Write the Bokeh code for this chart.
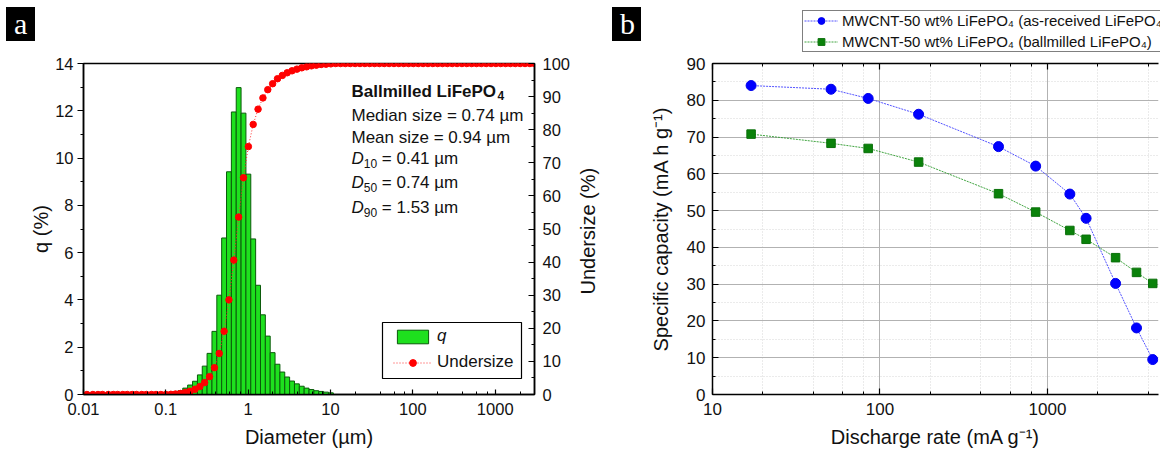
import numpy as np
from math import pi
from bokeh.plotting import figure
from bokeh.models import (Range1d, LinearAxis, LogAxis, Label, Legend, LegendItem,
                          ColumnDataSource, SingleIntervalTicker, LogTicker,
                          CustomJSTickFormatter, BoxAnnotation)
from bokeh.layouts import row, column
from bokeh.embed import file_html
from bokeh.resources import INLINE

SANS = "Liberation Sans"
SERIF = "Liberation Serif"
INK = "#111111"

# ---------------- Panel a data: particle size distribution ----------------
diameter_um = [0.011, 0.013, 0.015, 0.017, 0.020, 0.023, 0.026, 0.030, 0.034, 0.039,
               0.044, 0.051, 0.058, 0.067, 0.076, 0.087, 0.100, 0.115, 0.131, 0.150,
               0.172, 0.197, 0.226, 0.259, 0.296, 0.339, 0.389, 0.445, 0.510, 0.584,
               0.669, 0.766, 0.877, 1.005, 1.151, 1.318, 1.510, 1.729, 1.981, 2.269,
               2.599, 2.976, 3.409, 3.905, 4.472, 5.122, 5.867, 6.720, 7.697, 8.816,
               10.097, 11.565, 13.246, 15.172, 17.377, 19.904, 22.797, 26.111, 29.907, 34.255,
               39.234, 44.938, 51.471, 58.953, 67.523, 77.339, 88.583, 101.460, 116.210, 133.103,
               152.453, 174.616, 200.000, 229.075, 262.376, 300.518, 344.206, 394.244, 451.556, 517.200,
               592.387, 678.504, 777.141, 890.116, 1019.515, 1167.725, 1337.481, 1531.914, 1754.613, 2009.687,
               2301.841, 2636.467, 3000.000]

q_percent = [0, 0, 0, 0, 0, 0, 0, 0, 0, 0,
             0, 0, 0, 0, 0, 0, 0, 0.04, 0.09, 0.16,
             0.27, 0.40, 0.56, 0.83, 1.20, 1.74, 2.67, 4.20, 6.62, 9.42,
             11.95, 12.98, 11.90, 9.32, 6.58, 4.62, 3.37, 2.47, 1.77, 1.28,
             0.95, 0.74, 0.57, 0.45, 0.35, 0.27, 0.21, 0.16, 0.13, 0.10,
             0.07, 0, 0, 0, 0, 0, 0, 0, 0, 0,
             0, 0, 0, 0, 0, 0, 0, 0, 0, 0,
             0, 0, 0, 0, 0, 0, 0, 0, 0, 0,
             0, 0, 0, 0, 0, 0, 0, 0, 0, 0,
             0, 0, 0]

undersize_percent = [0, 0, 0, 0, 0, 0, 0, 0, 0, 0,
                     0, 0, 0, 0, 0, 0, 0, 0.05, 0.15, 0.3,
                     0.6, 1.0, 1.6, 2.4, 3.6, 5.4, 8.1, 12.4, 19.1, 28.6,
                     40.6, 53.6, 65.5, 74.9, 81.6, 86.2, 89.6, 92.1, 93.9, 95.4,
                     96.4, 97.2, 97.8, 98.3, 98.7, 99.0, 99.3, 99.5, 99.7, 99.8,
                     99.9, 100, 100, 100, 100, 100, 100, 100, 100, 100,
                     100, 100, 100, 100, 100, 100, 100, 100, 100, 100,
                     100, 100, 100, 100, 100, 100, 100, 100, 100, 100,
                     100, 100, 100, 100, 100, 100, 100, 100, 100, 100,
                     100, 100, 100]

stats_lines = ["Median size = 0.74 µm", "Mean size = 0.94 µm"]
d_labels = ["10", "50", "90"]
d_values = ["= 0.41 µm", "= 0.74 µm", "= 1.53 µm"]

# ---------------- Panel b data: rate capability ----------------
discharge_rate = [17, 51, 85, 170, 510, 850, 1360, 1700, 2550, 3400, 4250]
cap_as_received = [84.0, 83.0, 80.5, 76.2, 67.4, 62.1, 54.5, 47.9, 30.2, 18.1, 9.5]
cap_ballmilled = [70.8, 68.3, 66.9, 63.2, 54.6, 49.6, 44.6, 42.2, 37.2, 33.2, 30.2]
label_as_received = "MWCNT-50 wt% LiFePO₄ (as-received LiFePO₄)"
label_ballmilled = "MWCNT-50 wt% LiFePO₄ (ballmilled LiFePO₄)"

BLUE_LINE = dict(line_color="#4040ff", line_width=0.9, line_dash="2 1")
BLUE_MARK = dict(marker="circle", size=10, fill_color="#0000ff", line_color="#0000ee")
GREEN_LINE = dict(line_color="#2a9a2a", line_width=0.9, line_dash="2 1")
GREEN_MARK = dict(marker="square", size=8.5, fill_color="#0a820a", line_color="#0a700a")

fmt = CustomJSTickFormatter(code="return Number(tick.toPrecision(3)).toString();")


def label(p, text, x, y, size, style="normal", align="left", baseline="alphabetic",
          angle=0.0, font=SANS, color=INK):
    p.add_layout(Label(x=x, y=y, x_units="screen", y_units="screen", text=text,
                       text_font=font, text_font_size=f"{size}px", text_font_style=style,
                       text_align=align, text_baseline=baseline, angle=angle,
                       text_color=color))


def sbox(p, l, r, b, t, fill="black", line=None, lw=1.0):
    p.add_layout(BoxAnnotation(left=l, right=r, bottom=b, top=t,
                               left_units="screen", right_units="screen",
                               bottom_units="screen", top_units="screen",
                               fill_color=fill, fill_alpha=1.0,
                               line_color=line, line_width=lw, line_alpha=1.0))


def style_axis(ax, size, t_in, t_out, m_in, m_out, standoff):
    ax.axis_line_color = "black"
    ax.axis_line_width = 1.5
    ax.major_tick_line_color = "black"
    ax.minor_tick_line_color = "black"
    ax.major_tick_line_width = 1.2
    ax.minor_tick_line_width = 1
    ax.major_tick_in = t_in
    ax.major_tick_out = t_out
    ax.minor_tick_in = m_in
    ax.minor_tick_out = m_out
    ax.major_label_text_font = SANS
    ax.major_label_text_font_size = f"{size}px"
    ax.major_label_text_color = INK
    ax.major_label_standoff = standoff


def title_axis(ax, text, standoff):
    ax.axis_label = text
    ax.axis_label_text_font = SANS
    ax.axis_label_text_font_size = "20px"
    ax.axis_label_text_font_style = "normal"
    ax.axis_label_text_color = INK
    ax.axis_label_standoff = standoff


def letter_legend(fig, letter, x, y_bottom):
    dummy = fig.quad(left=[], right=[], bottom=[], top=[], fill_alpha=0, line_alpha=0)
    return Legend(items=[LegendItem(label=letter, renderers=[dummy])],
                  location=(x, y_bottom), padding=0, margin=0, spacing=0,
                  glyph_width=0, glyph_height=29, label_standoff=8, label_width=21,
                  label_height=29, label_text_font=SERIF, label_text_font_size="30px",
                  label_text_color="white", background_fill_color="black",
                  background_fill_alpha=1.0, border_line_color=None)


HDR_H = 52          # header strip (page y 0..52)
FIG_H = 400         # plots (page y 52..452)
TOP_B = 63 - HDR_H  # frame top at page y 63
BOT_B = FIG_H - (394 - HDR_H)  # frame bottom at page y 394
W_A = 620           # panel a canvas (page x 0..620); its frame ends at x 534
W_B = 540           # panel b canvas (page x 620..1160); its frame starts at x 712

# ======================= header strip (panel letters, legend of b) =======================
hdr = figure(width=W_A + W_B, height=HDR_H, x_range=Range1d(0, 1), y_range=Range1d(0, 1),
             x_axis_location=None, y_axis_location=None, min_border=0, title=None,
             output_backend="svg", toolbar_location=None)
hdr.outline_line_color = None
hdr.grid.visible = False
hdr.background_fill_alpha = 0.0

hdr.add_layout(letter_legend(hdr, "a", 6, HDR_H - 41))
hdr.add_layout(letter_legend(hdr, "b", 612, HDR_H - 41))

# legend glyph sources (the data lie outside this strip's ranges, so only the legend shows)
h_bl = hdr.line(discharge_rate, cap_as_received, **BLUE_LINE)
h_bs = hdr.scatter(discharge_rate, cap_as_received, **BLUE_MARK)
h_gl = hdr.line(discharge_rate, cap_ballmilled, **GREEN_LINE)
h_gs = hdr.scatter(discharge_rate, cap_ballmilled, **GREEN_MARK)
leg_b = Legend(items=[LegendItem(label=label_as_received, renderers=[h_bl, h_bs]),
                      LegendItem(label=label_ballmilled, renderers=[h_gl, h_gs])],
               location=(802, 0.5), padding=1, margin=0, spacing=4,
               glyph_width=34, glyph_height=17, label_height=17, label_standoff=4,
               label_text_font=SANS, label_text_font_size="15px",
               label_text_color=INK, border_line_color="black",
               border_line_width=1.2, background_fill_color="white",
               background_fill_alpha=1.0)
hdr.add_layout(leg_b)

# ======================= Panel a =======================
p1 = figure(width=W_A, height=FIG_H, x_axis_type="log",
            x_range=Range1d(0.01, 3000), y_range=Range1d(0, 14),
            output_backend="svg", toolbar_location=None,
            min_border_left=83, min_border_right=W_A - 534,
            min_border_top=TOP_B, min_border_bottom=BOT_B)
p1.extra_y_ranges = {"under": Range1d(0, 100)}
p1.xgrid.visible = False
p1.ygrid.visible = False
p1.outline_line_color = "black"
p1.outline_line_width = 1.5
p1.outline_line_alpha = 1.0

d = np.array(diameter_um)
mid = np.sqrt(d[:-1] * d[1:])
left_edge = np.concatenate([[d[0] ** 2 / mid[0]], mid])
right_edge = np.concatenate([mid, [d[-1] ** 2 / mid[-1]]])
qa = np.array(q_percent, dtype=float)
has = qa > 0
bar_src = ColumnDataSource(dict(left=left_edge[has], right=right_edge[has], top=qa[has]))
bars = p1.quad(left="left", right="right", bottom=0, top="top", source=bar_src,
               fill_color="#1ee01e", line_color="#0b5a0b", line_width=1)

u_src = ColumnDataSource(dict(x=diameter_um, y=undersize_percent))
uline = p1.line("x", "y", source=u_src, y_range_name="under",
                line_color="#ff3030", line_width=1, line_dash="1 2")
udots = p1.scatter("x", "y", source=u_src, y_range_name="under", marker="circle",
                   size=6.5, fill_color="#ff0000", line_color="#ff0000")

p1.xaxis.formatter = fmt
p1.xaxis.ticker = LogTicker(desired_num_ticks=6)
style_axis(p1.xaxis[0], 16.5, 5, 0, 3, 0, 8)
title_axis(p1.xaxis[0], "Diameter (µm)", 8)
p1.yaxis.ticker = SingleIntervalTicker(interval=2, num_minor_ticks=2)
style_axis(p1.yaxis[0], 16.5, 0, 6, 0, 3, 4)
title_axis(p1.yaxis[0], "q (%)", 0)
ax_r = LinearAxis(y_range_name="under",
                  ticker=SingleIntervalTicker(interval=10, num_minor_ticks=2))
style_axis(ax_r, 16.5, 6, 0, 3, 0, 8)
title_axis(ax_r, "Undersize (%)", 6)
try:
    # read bottom-to-top like the left title: start the text at the bottom end and
    # push it up to the middle of the axis
    ax_r.axis_label_align = "start"
    ax_r.axis_label_orientation = pi / 2
    ax_r.axis_label = "\u00a0" * 18 + "Undersize (%)"
    ax_r.axis_label_standoff = 15
except AttributeError:
    ax_r.axis_label = "Undersize (%)"
    ax_r.axis_label_standoff = 6
p1.add_layout(ax_r, "right")

# legend (two parts so that "q" is italic) inside a framed box
sbox(p1, 299, 438, 16, 72, fill="white", line="black", lw=1.2)
leg_common = dict(padding=0, spacing=0, glyph_width=39, glyph_height=17,
                  label_height=17, label_standoff=5, label_text_font=SANS,
                  label_text_font_size="17px", label_text_color=INK,
                  border_line_color=None, background_fill_alpha=0.0)
leg_q = Legend(items=[LegendItem(label="q", renderers=[bars])], location=(310, 48),
               label_text_font_style="italic", **leg_common)
leg_u = Legend(items=[LegendItem(label="Undersize", renderers=[uline, udots])],
               location=(310, 22), **leg_common)
p1.add_layout(leg_q)
p1.add_layout(leg_u)

# annotation text
ax0 = 268
label(p1, "Ballmilled LiFePO", ax0, 303, 17, style="bold")
label(p1, "4", 414, 299, 12, style="bold")
label(p1, stats_lines[0], ax0, 279, 17)
label(p1, stats_lines[1], ax0, 257, 17)
for i, yy in enumerate([236, 212, 187]):
    label(p1, "D", ax0, yy, 17, style="italic")
    label(p1, d_labels[i], ax0 + 12.3, yy - 4.5, 12)
    label(p1, d_values[i], ax0 + 30.3, yy, 17)

# ======================= Panel b =======================
p2 = figure(width=W_B, height=FIG_H, x_axis_type="log",
            x_range=Range1d(10, 4600), y_range=Range1d(0, 90),
            output_backend="svg", toolbar_location=None,
            min_border_left=712 - W_A, min_border_right=2,
            min_border_top=TOP_B, min_border_bottom=BOT_B)
p2.outline_line_color = None

yt = SingleIntervalTicker(interval=10, num_minor_ticks=2)
p2.yaxis.ticker = yt
p2.ygrid.ticker = yt
xt = LogTicker(desired_num_ticks=4)
p2.xaxis.ticker = xt
p2.xgrid.ticker = xt
p2.xaxis.formatter = fmt
style_axis(p2.xaxis[0], 17, 6, 0, 3, 0, 8)
style_axis(p2.yaxis[0], 17, 6, 0, 3, 0, 7)
title_axis(p2.xaxis[0], "Discharge rate (mA g⁻¹)", 8)
title_axis(p2.yaxis[0], "Specific capacity (mA h g⁻¹)", 12)

for g in (p2.xgrid[0], p2.ygrid[0]):
    g.grid_line_color = "#b2b2b2"
    g.grid_line_width = 1
    g.minor_grid_line_color = "#d6d6d6"
    g.minor_grid_line_dash = "1 2"
    g.minor_grid_line_width = 1

top_ax = LogAxis(ticker=xt, formatter=CustomJSTickFormatter(code="return '';"))
style_axis(top_ax, 1, 6, 0, 3, 0, 0)
top_ax.major_label_text_font_size = "0px"
p2.add_layout(top_ax, "above")

p2.line(discharge_rate, cap_as_received, **BLUE_LINE)
p2.scatter(discharge_rate, cap_as_received, **BLUE_MARK)
p2.line(discharge_rate, cap_ballmilled, **GREEN_LINE)
p2.scatter(discharge_rate, cap_ballmilled, **GREEN_MARK)

layout = column(hdr, row(p1, p2))
open("out.html", "w").write(file_html(layout, INLINE))
